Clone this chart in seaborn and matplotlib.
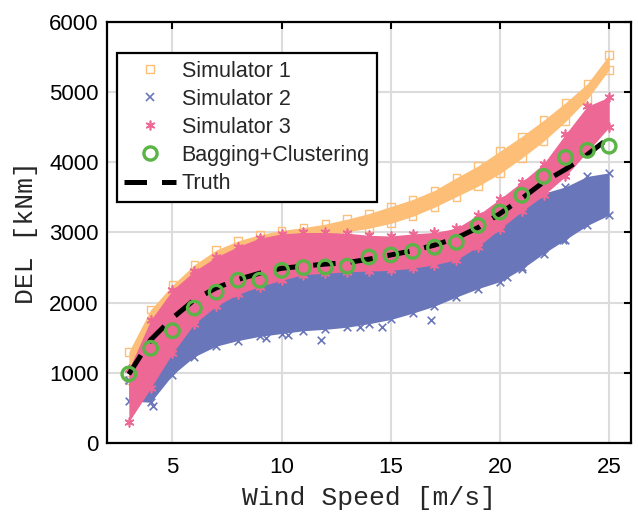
import numpy as np
import pandas as pd
import matplotlib
matplotlib.use("Agg")
import matplotlib.pyplot as plt
from matplotlib.lines import Line2D
import seaborn as sns

# ---------------- data ----------------
wind = [3, 4, 5, 6, 7, 8, 9, 10, 11, 12, 13, 14, 15, 16, 17, 18, 19, 20, 21, 22, 23, 24, 25]

sim1_low = [900, 1400, 1800, 2100, 2350, 2550, 2700, 2850, 2920, 2960, 3010, 3060, 3130,
            3230, 3360, 3510, 3660, 3840, 4060, 4300, 4580, 4900, 5320]
sim1_high = [1300, 1900, 2250, 2540, 2750, 2880, 2970, 3030, 3070, 3120, 3190, 3270, 3370,
             3470, 3600, 3780, 3950, 4160, 4370, 4600, 4850, 5120, 5530]

sim2_low = [600, 580, 970, 1230, 1380, 1460, 1520, 1560, 1600, 1620, 1650, 1700, 1760,
            1850, 1950, 2080, 2200, 2300, 2480, 2700, 2900, 3100, 3250]
sim2_high = [900, 900, 1350, 1750, 2000, 2170, 2280, 2370, 2450, 2470, 2490, 2500, 2510,
             2540, 2590, 2660, 2850, 3100, 3350, 3560, 3650, 3800, 3850]
sim2_out_x = [4.1, 9.3, 10.3, 11.8, 13.6, 14.6, 16.85, 20.3, 21.0, 22.9, 24.55]
sim2_out_y = [520, 1500, 1540, 1467, 1660, 1660, 1752, 2370, 2510, 2890, 3270]

sim3_low = [300, 780, 1280, 1700, 1950, 2120, 2230, 2320, 2400, 2420, 2440, 2450, 2460,
            2490, 2540, 2610, 2800, 3050, 3300, 3530, 3800, 4150, 4500]
sim3_high = [1050, 1750, 2180, 2450, 2650, 2800, 2920, 2980, 3000, 3000, 2990, 2960, 2950,
             2980, 3000, 3060, 3250, 3480, 3720, 3980, 4400, 4800, 4930]

bag_y = [983, 1350, 1600, 1923, 2150, 2320, 2320, 2460, 2500, 2510, 2520, 2650, 2680,
         2730, 2790, 2860, 3100, 3290, 3530, 3800, 4070, 4170, 4230]

truth_y = [980, 1470, 1780, 2040, 2210, 2330, 2420, 2490, 2520, 2550, 2570, 2620, 2680,
           2740, 2820, 2920, 3070, 3270, 3485, 3720, 3900, 4110, 4350]

x_ticks = [5, 10, 15, 20, 25]
y_ticks = [0, 1000, 2000, 3000, 4000, 5000, 6000]

legend_labels = ["Simulator 1", "Simulator 2", "Simulator 3", "Bagging+Clustering", "Truth"]

c_orange = "#FDBE78"
c_blue = "#6A76BA"
c_pink = "#EE6896"
c_green = "#5AB446"

# ---------------- figure ----------------
sns.set_theme(style="white")
plt.rcParams["font.family"] = ["Liberation Sans", "DejaVu Sans"]

fig = plt.figure(figsize=(6.38, 5.13), dpi=100)
ax = fig.add_axes([0.1677, 0.1365, 0.8213, 0.8206])

ax.grid(True, color="#dcdcdc", linewidth=1.5, zorder=0)
ax.set_axisbelow(True)

def band(lo, hi, color, marker, zo, ms=28, lw=1.0, filled=False):
    ax.fill_between(wind, lo, hi, color=color, linewidth=0, zorder=zo)
    df = pd.DataFrame({"x": wind + wind, "y": lo + hi})
    kw = dict(data=df, x="x", y="y", ax=ax, marker=marker, s=ms, zorder=zo + 0.5,
              legend=False)
    if filled:
        sns.scatterplot(color=color, linewidth=lw, **kw)
    else:
        sns.scatterplot(facecolor="none", edgecolor=color, linewidth=lw, **kw)

# Simulator 1 (orange squares)
band(sim1_low, sim1_high, c_orange, "s", 2, ms=30, lw=1.0)
# Simulator 2 (blue crosses)
band(sim2_low, sim2_high, c_blue, "x", 3, ms=30, lw=1.2, filled=True)
sns.scatterplot(x=sim2_out_x, y=sim2_out_y, marker="x", s=30, color=c_blue,
                linewidth=1.2, ax=ax, zorder=3.5, legend=False)
# Simulator 3 (pink asterisks)
band(sim3_low, sim3_high, c_pink, (6, 2, 0), 4, ms=40, lw=1.2, filled=True)

# Truth
sns.lineplot(x=wind, y=truth_y, ax=ax, color="black", linewidth=3.6,
             dashes=False, zorder=6, legend=False)
ax.lines[-1].set_dashes((4.5, 3))
# Bagging+Clustering
sns.scatterplot(x=wind, y=bag_y, ax=ax, marker="o", s=95, facecolor="none",
                edgecolor=c_green, linewidth=2.4, zorder=7, legend=False)

ax.set_xlim(2, 26)
ax.set_ylim(0, 6000)
ax.set_xticks(x_ticks)
ax.set_yticks(y_ticks)
ax.set_xticklabels([str(v) for v in x_ticks])
ax.set_yticklabels([str(v) for v in y_ticks])

ax.tick_params(direction="in", length=5, width=1.5, top=True, right=True,
               labelsize=16, colors="black")
ax.tick_params(axis="x", pad=10)
ax.tick_params(axis="y", pad=6)
for s in ax.spines.values():
    s.set_visible(True)
    s.set_color("black")
    s.set_linewidth(1.6)

ax.set_xlabel("Wind Speed [m/s]", family="Liberation Mono", fontsize=19, labelpad=6)
ax.set_ylabel("DEL [kNm]", family="Liberation Mono", fontsize=19, labelpad=8)

handles = [
    Line2D([0], [0], linestyle="none", marker="s", markersize=6, markerfacecolor="none",
           markeredgecolor=c_orange, markeredgewidth=1.0),
    Line2D([0], [0], linestyle="none", marker="x", markersize=6, color=c_blue,
           markeredgewidth=1.2),
    Line2D([0], [0], linestyle="none", marker=(6, 2, 0), markersize=7, color=c_pink,
           markeredgewidth=1.2),
    Line2D([0], [0], linestyle="none", marker="o", markersize=9.5, markerfacecolor="none",
           markeredgecolor=c_green, markeredgewidth=2.4),
    Line2D([0], [0], color="black", linewidth=3.6, dashes=(4.5, 3)),
]
leg = ax.legend(handles, legend_labels, loc="upper left", bbox_to_anchor=(0.019, 0.926),
                borderaxespad=0, fontsize=15.5, handlelength=2.4, handletextpad=0.25,
                labelspacing=0.33, borderpad=0.35, fancybox=False, framealpha=1)
leg.get_frame().set_edgecolor("black")
leg.get_frame().set_linewidth(1.6)
leg.set_zorder(10)

fig.savefig("out.png", dpi=100)
